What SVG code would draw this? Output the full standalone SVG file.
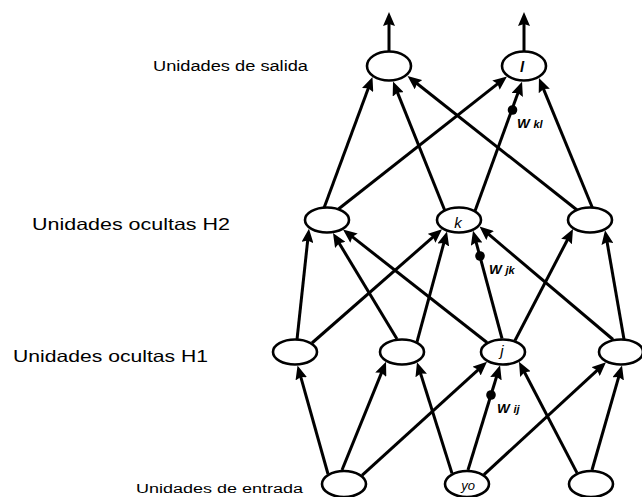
<svg xmlns="http://www.w3.org/2000/svg" width="642" height="497" viewBox="0 0 642 497">
  <style>
    .node { fill: #ffffff; stroke: #000000; stroke-width: 2.6; }
    .edge { stroke: #000000; stroke-width: 3; fill: none; marker-end: url(#arrow); }
    .dot { fill: #000000; }
    .layer { font-family: "Liberation Sans", Arial, sans-serif; fill: #000000; }
    .unit { font-family: "Liberation Sans", Arial, sans-serif; font-style: italic; fill: #000000; text-anchor: middle; }
    .w { font-family: "Liberation Sans", Arial, sans-serif; font-style: italic; font-weight: bold; font-size: 13.5px; fill: #000000; }
    .sub { font-size: 11px; }
  </style>
  <defs>
    <marker id="arrow" viewBox="0 0 14 12" refX="6" refY="6" markerWidth="14" markerHeight="12" markerUnits="userSpaceOnUse" orient="auto">
      <path d="M0,0 L14,6 L0,12 L2,6 z" fill="#000000"/>
    </marker>
  </defs>
  <rect width="642" height="497" fill="#ffffff"/>

  <!-- layer captions -->
  <g id="layer-labels">
    <text class="layer" x="153" y="71" font-size="14" textLength="155" lengthAdjust="spacingAndGlyphs">Unidades de salida</text>
    <text class="layer" x="32" y="230" font-size="16.5" textLength="198" lengthAdjust="spacingAndGlyphs">Unidades ocultas H2</text>
    <text class="layer" x="13" y="362" font-size="16.5" textLength="195" lengthAdjust="spacingAndGlyphs">Unidades ocultas H1</text>
    <text class="layer" x="136" y="493" font-size="12" textLength="167" lengthAdjust="spacingAndGlyphs">Unidades de entrada</text>
  </g>

  <!-- weighted connections, drawn from lower unit to upper unit -->
  <g id="connectors">
    <!-- input -> H1 -->
    <line class="edge" x1="328" y1="474" x2="299.7" y2="373.1"/>
    <line class="edge" x1="342" y1="470" x2="383.0" y2="369.1"/>
    <line class="edge" x1="362" y1="475.3" x2="481.1" y2="367.1"/>
    <line class="edge" x1="452" y1="473.4" x2="419.4" y2="369.8"/>
    <line class="edge" x1="468" y1="470" x2="497.7" y2="373.0"/>
    <line class="edge" x1="484" y1="474.6" x2="600.1" y2="367.6"/>
    <line class="edge" x1="577" y1="472.9" x2="522.7" y2="368.8"/>
    <line class="edge" x1="592" y1="470" x2="619.8" y2="373.1"/>
    <!-- H1 -> H2 -->
    <line class="edge" x1="297" y1="339.7" x2="308.1" y2="236.6"/>
    <line class="edge" x1="312" y1="343" x2="436.0" y2="234.4"/>
    <line class="edge" x1="397" y1="339" x2="337.1" y2="239.8"/>
    <line class="edge" x1="417" y1="341.8" x2="444.9" y2="239.2"/>
    <line class="edge" x1="487" y1="342.5" x2="349.3" y2="234.4"/>
    <line class="edge" x1="502" y1="338.5" x2="475.1" y2="238.4"/>
    <line class="edge" x1="515" y1="340.5" x2="569.3" y2="236.2"/>
    <line class="edge" x1="613" y1="339.5" x2="485.6" y2="231.7"/>
    <line class="edge" x1="624" y1="339.3" x2="606.4" y2="238.1"/>
    <!-- H2 -> output -->
    <line class="edge" x1="324" y1="208" x2="369.7" y2="84.5"/>
    <line class="edge" x1="444.6" y1="210" x2="396.0" y2="88.9"/>
    <line class="edge" x1="577" y1="210" x2="413.8" y2="81.0"/>
    <line class="edge" x1="338.5" y1="209" x2="500.7" y2="81.4"/>
    <line class="edge" x1="475" y1="211" x2="519.3" y2="89.3"/>
    <line class="edge" x1="592.5" y1="208" x2="542.0" y2="85.4"/>
    <!-- outputs -->
    <line class="edge" x1="389" y1="51" x2="389" y2="20"/>
    <line class="edge" x1="524" y1="51" x2="524" y2="20"/>
    <!-- weight markers -->
    <circle class="dot" cx="512.5" cy="110" r="4.8"/>
    <circle class="dot" cx="480" cy="256" r="4.8"/>
    <circle class="dot" cx="491" cy="395" r="4.8"/>
  </g>

  <!-- weight labels -->
  <g id="weight-labels">
    <text class="w" x="517" y="128">W <tspan class="sub">kl</tspan></text>
    <text class="w" x="489" y="274">W <tspan class="sub">jk</tspan></text>
    <text class="w" x="497" y="413">W <tspan class="sub">ij</tspan></text>
  </g>

  <!-- output units -->
  <g id="out-0"><ellipse class="node" cx="389" cy="66" rx="22" ry="14.5"/></g>
  <g id="out-l"><ellipse class="node" cx="524" cy="66" rx="22" ry="14.5"/><text class="unit" x="522" y="72" font-size="15" font-weight="bold">l</text></g>

  <!-- hidden layer H2 -->
  <g id="h2-0"><ellipse class="node" cx="327" cy="220" rx="22" ry="12.5"/></g>
  <g id="h2-k"><ellipse class="node" cx="459" cy="220" rx="22" ry="12.5"/><text class="unit" x="458" y="228" font-size="15">k</text></g>
  <g id="h2-2"><ellipse class="node" cx="590" cy="220" rx="22" ry="12.5"/></g>

  <!-- hidden layer H1 -->
  <g id="h1-0"><ellipse class="node" cx="295" cy="352" rx="22" ry="12.5"/></g>
  <g id="h1-1"><ellipse class="node" cx="402" cy="352" rx="22" ry="12.5"/></g>
  <g id="h1-j"><ellipse class="node" cx="503" cy="352" rx="22" ry="12.5"/><text class="unit" x="502" y="356" font-size="15">j</text></g>
  <g id="h1-3"><ellipse class="node" cx="621" cy="352" rx="22" ry="12.5"/></g>

  <!-- input units -->
  <g id="in-0"><ellipse class="node" cx="344" cy="484" rx="22" ry="13"/></g>
  <g id="in-yo"><ellipse class="node" cx="467" cy="484" rx="22" ry="13"/><text class="unit" x="468" y="490" font-size="13">yo</text></g>
  <g id="in-2"><ellipse class="node" cx="591" cy="484" rx="22" ry="13"/></g>
</svg>
